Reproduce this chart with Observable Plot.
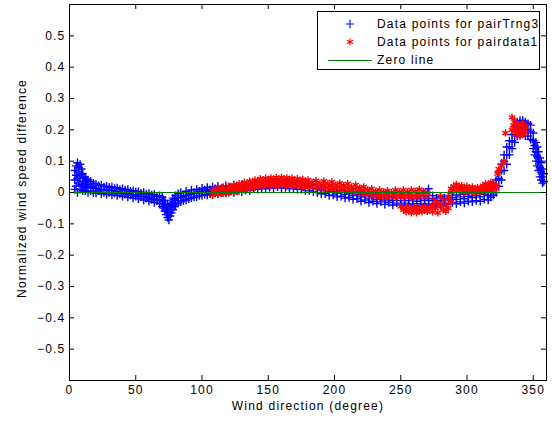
<!DOCTYPE html>
<html>
<head>
<meta charset="utf-8">
<script src="https://cdn.jsdelivr.net/npm/d3@7"></script>
<script src="https://cdn.jsdelivr.net/npm/@observablehq/plot@0.6"></script>
<style>
  html, body { margin: 0; padding: 0; background: #fff; }
  #wrap { position: relative; width: 552px; height: 423px; overflow: hidden; }
  #legend { position: absolute; left: 317px; top: 11px; width: 221px; height: 57px; border: 1px solid #000; background: #fff; }
  #legend svg { display: block; }
</style>
</head>
<body>
<div id="wrap"></div>
<script>
// ---------- data ----------
const xTicks = [0, 50, 100, 150, 200, 250, 300, 350];
const yTicks = [-0.5, -0.4, -0.3, -0.2, -0.1, 0, 0.1, 0.2, 0.3, 0.4, 0.5];
const xLabel = "Wind direction (degree)";
const yLabel = "Normalized wind speed difference";
const seriesNames = ["Data points for pairTrng3", "Data points for pairdata1", "Zero line"];

// [wind direction, normalized difference] — blue "+" series
const pairTrng3 = [
  [4,0.01],[4,0.04],[4,0.07],[5,0.02],[5,0.055],[5,0.085],[6,0.0],[6,0.045],[6,0.095],[7,0.03],[7,0.065],[7,0.08],
  [8,0.01],[8,0.05],[8,0.09],[9,0.025],[9,0.06],[9,0.075],[10,0.005],[10,0.035],[10,0.06],[11,0.02],[11,0.05],
  [12,0.005],[12,0.03],[12,0.045],[13,0.015],[13,0.04],[14,0.0],[14,0.025],[14,0.04],[16,0.005],[16,0.02],[16,0.035],
  [18,0.0],[18,0.015],[18,0.03],[20,-0.002],[20,0.012],[20,0.027],[22,0.005],[22,0.022],[24,-0.004],[24,0.01],[24,0.024],
  [26,0.0],[26,0.018],[28,-0.006],[28,0.008],[28,0.02],[30,0.0],[30,0.016],[32,-0.008],[32,0.006],[32,0.018],
  [34,-0.002],[34,0.013],[36,-0.01],[36,0.004],[36,0.015],[38,-0.004],[38,0.01],[40,-0.012],[40,0.0],[40,0.012],
  [42,-0.006],[42,0.008],[44,-0.015],[44,-0.003],[44,0.01],[46,-0.008],[46,0.004],[48,-0.018],[48,-0.006],[48,0.006],
  [50,-0.012],[50,0.002],[52,-0.02],[52,-0.008],[52,0.003],[54,-0.014],[54,-0.002],[56,-0.024],[56,-0.012],[56,0.0],
  [58,-0.018],[58,-0.005],[60,-0.028],[60,-0.015],[60,-0.003],[62,-0.022],[62,-0.008],[64,-0.032],[64,-0.018],[64,-0.006],
  [66,-0.026],[66,-0.012],[68,-0.036],[68,-0.022],[68,-0.01],[70,-0.045],[70,-0.03],[70,-0.015],[71,-0.05],[71,-0.025],
  [72,-0.06],[72,-0.04],[72,-0.025],[73,-0.07],[73,-0.05],[74,-0.08],[74,-0.06],[74,-0.04],[75,-0.088],[75,-0.065],[75,-0.045],
  [76,-0.075],[76,-0.055],[76,-0.035],[77,-0.065],[77,-0.04],[78,-0.055],[78,-0.035],[78,-0.018],[79,-0.045],[79,-0.022],
  [80,-0.04],[80,-0.025],[80,-0.01],[82,-0.034],[82,-0.018],[82,-0.004],[84,-0.03],[84,-0.015],[84,0.0],[86,-0.026],[86,-0.012],
  [88,-0.024],[88,-0.01],[88,0.004],[90,-0.02],[90,-0.006],[92,-0.018],[92,-0.004],[92,0.008],[94,-0.015],[94,0.0],
  [96,-0.014],[96,-0.002],[96,0.01],[98,-0.01],[98,0.004],[100,-0.01],[100,0.002],[100,0.014],[102,-0.006],[102,0.008],
  [104,-0.008],[104,0.004],[104,0.016],[106,-0.004],[106,0.01],[108,-0.006],[108,0.006],[108,0.018],[110,-0.002],[110,0.012],
  [112,-0.004],[112,0.008],[112,0.02],[115,0.0],[115,0.014],[118,-0.002],[118,0.01],[118,0.022],[121,0.004],[121,0.016],
  [124,0.0],[124,0.012],[124,0.024],[127,0.006],[127,0.018],[130,0.002],[130,0.014],[130,0.026],[133,0.008],[133,0.02],
  [136,0.006],[136,0.018],[136,0.03],[139,0.012],[139,0.024],[142,0.01],[142,0.022],[142,0.032],[145,0.014],[145,0.026],
  [148,0.012],[148,0.024],[148,0.034],[151,0.016],[151,0.028],[154,0.014],[154,0.026],[154,0.036],[157,0.018],[157,0.03],
  [160,0.014],[160,0.026],[160,0.036],[163,0.016],[163,0.028],[166,0.012],[166,0.024],[166,0.034],[169,0.014],[169,0.026],
  [172,0.01],[172,0.022],[172,0.032],[175,0.01],[175,0.022],[178,0.006],[178,0.018],[178,0.028],[181,0.006],[181,0.018],
  [184,0.002],[184,0.014],[184,0.024],[187,0.0],[187,0.012],[190,-0.004],[190,0.008],[190,0.018],[193,-0.004],[193,0.006],
  [196,-0.01],[196,0.002],[196,0.014],[199,-0.008],[199,0.004],[202,-0.014],[202,-0.002],[202,0.01],[205,-0.012],[205,0.0],
  [208,-0.018],[208,-0.006],[208,0.006],[211,-0.016],[211,-0.004],[214,-0.022],[214,-0.01],[214,0.002],[217,-0.02],[217,-0.008],
  [220,-0.028],[220,-0.014],[220,-0.002],[223,-0.024],[223,-0.01],[226,-0.032],[226,-0.018],[226,-0.005],[229,-0.028],[229,-0.012],
  [232,-0.035],[232,-0.022],[232,-0.008],[235,-0.03],[235,-0.015],[238,-0.038],[238,-0.024],[238,-0.01],[241,-0.032],[241,-0.016],
  [244,-0.04],[244,-0.026],[244,-0.012],[247,-0.034],[247,-0.018],[250,-0.04],[250,-0.026],[250,-0.012],[253,-0.034],[253,-0.018],
  [256,-0.04],[256,-0.026],[256,-0.012],[259,-0.036],[259,-0.02],[262,-0.042],[262,-0.028],[262,-0.014],[265,-0.036],[265,-0.02],
  [268,-0.04],[268,-0.026],[268,-0.012],[271,-0.036],[271,-0.02],[271,0.012],[274,-0.04],[274,-0.026],[274,-0.01],[277,-0.034],[277,-0.018],
  [280,-0.04],[280,-0.026],[280,-0.012],[283,-0.034],[283,-0.018],[286,-0.038],[286,-0.024],[286,-0.01],[289,-0.032],[289,-0.016],
  [292,-0.036],[292,-0.022],[292,-0.008],[295,-0.03],[295,-0.014],[298,-0.034],[298,-0.02],[298,-0.006],[301,-0.028],[301,-0.012],
  [304,-0.03],[304,-0.016],[304,-0.002],[307,-0.026],[307,-0.01],[310,-0.028],[310,-0.014],[310,0.0],[313,-0.022],[313,-0.006],
  [316,-0.024],[316,-0.01],[316,0.005],[318,-0.015],[318,0.0],[320,-0.008],[320,0.01],[320,0.025],[322,0.0],[322,0.02],[322,0.04],
  [324,0.02],[324,0.045],[324,0.065],[326,0.04],[326,0.07],[326,0.09],[328,0.07],[328,0.1],[328,0.12],[330,0.09],[330,0.12],[330,0.145],
  [332,0.12],[332,0.145],[332,0.165],[334,0.14],[334,0.165],[334,0.185],[336,0.16],[336,0.185],[336,0.21],[338,0.18],[338,0.2],[338,0.225],
  [340,0.185],[340,0.21],[340,0.23],[342,0.19],[342,0.21],[342,0.23],[344,0.18],[344,0.2],[344,0.225],[346,0.18],[346,0.2],[346,0.22],
  [348,0.17],[348,0.195],[348,0.215],[350,0.14],[350,0.165],[350,0.19],[351,0.12],[351,0.15],[352,0.1],[352,0.13],[352,0.16],
  [353,0.085],[353,0.115],[353,0.145],[354,0.07],[354,0.1],[354,0.13],[355,0.05],[355,0.08],[355,0.11],[356,0.04],[356,0.065],[356,0.095],
  [357,0.03],[357,0.05],[357,0.075],[358,0.035],[358,0.06]
];

// [wind direction, normalized difference] — red "*" series
const pairdata1 = [
  [108,-0.008],[108,0.004],[110,-0.004],[110,0.008],[112,-0.006],[112,0.006],[112,0.014],[114,-0.002],[114,0.01],
  [116,-0.004],[116,0.008],[116,0.018],[118,0.0],[118,0.012],[120,-0.002],[120,0.01],[120,0.02],[122,0.004],[122,0.016],
  [124,0.0],[124,0.012],[124,0.024],[126,0.006],[126,0.018],[128,0.004],[128,0.016],[128,0.028],[130,0.01],[130,0.022],
  [132,0.008],[132,0.02],[132,0.032],[134,0.014],[134,0.026],[136,0.012],[136,0.024],[136,0.036],[138,0.018],[138,0.03],
  [140,0.016],[140,0.028],[140,0.04],[142,0.022],[142,0.034],[144,0.02],[144,0.032],[144,0.044],[146,0.024],[146,0.036],
  [148,0.022],[148,0.034],[148,0.046],[150,0.026],[150,0.038],[152,0.022],[152,0.035],[152,0.047],[154,0.026],[154,0.04],
  [156,0.022],[156,0.035],[156,0.048],[158,0.026],[158,0.04],[160,0.024],[160,0.036],[160,0.048],[162,0.028],[162,0.042],
  [164,0.022],[164,0.035],[164,0.047],[166,0.026],[166,0.04],[168,0.022],[168,0.034],[168,0.046],[170,0.026],[170,0.038],
  [172,0.02],[172,0.032],[172,0.044],[174,0.024],[174,0.036],[176,0.018],[176,0.03],[176,0.042],[178,0.022],[178,0.034],
  [180,0.016],[180,0.028],[180,0.04],[183,0.02],[183,0.032],[186,0.014],[186,0.026],[186,0.038],[189,0.018],[189,0.03],
  [192,0.012],[192,0.024],[192,0.036],[195,0.016],[195,0.028],[198,0.01],[198,0.022],[198,0.034],[201,0.012],[201,0.024],
  [204,0.006],[204,0.018],[204,0.03],[207,0.01],[207,0.022],[210,0.004],[210,0.016],[210,0.028],[213,0.006],[213,0.018],
  [216,0.0],[216,0.012],[216,0.024],[219,0.002],[219,0.014],[222,-0.006],[222,0.006],[222,0.018],[225,-0.004],[225,0.008],
  [228,-0.012],[228,0.0],[228,0.012],[231,-0.008],[231,0.004],[234,-0.016],[234,-0.004],[234,0.008],[237,-0.01],[237,0.002],
  [240,-0.018],[240,-0.006],[240,0.006],[243,-0.012],[243,0.0],[246,-0.016],[246,-0.004],[246,0.008],[249,-0.01],[249,0.002],
  [252,-0.016],[252,-0.004],[252,0.008],[255,-0.01],[255,0.002],[258,-0.016],[258,-0.004],[258,0.008],[261,-0.01],[261,0.004],
  [264,-0.014],[264,-0.002],[264,0.01],[267,-0.008],[267,0.004],[270,-0.012],[270,0.0],
  [250,-0.045],[252,-0.055],[254,-0.048],[254,-0.062],[256,-0.056],[258,-0.045],[258,-0.065],[260,-0.055],[262,-0.048],
  [262,-0.065],[264,-0.056],[266,-0.045],[266,-0.062],[268,-0.054],[270,-0.045],[270,-0.06],[272,-0.05],[274,-0.04],
  [274,-0.062],[276,-0.025],[276,-0.05],[278,-0.035],[278,-0.065],[280,-0.045],[280,-0.012],[282,-0.055],[282,-0.025],
  [284,-0.04],[284,-0.06],[286,-0.015],[286,-0.05],[288,-0.03],[288,0.0],
  [288,0.012],[290,0.008],[290,0.02],[292,0.014],[292,0.026],[294,0.004],[294,0.018],[296,0.01],[296,0.022],[298,0.0],
  [298,0.014],[300,0.008],[300,0.02],[302,0.0],[302,0.012],[304,0.006],[304,0.018],[306,-0.002],[306,0.01],[308,0.004],
  [308,0.016],[310,0.0],[310,0.012],[312,0.01],[312,0.022],[314,0.004],[314,0.016],[314,0.028],[316,0.012],[316,0.024],
  [318,0.008],[318,0.02],[318,0.032],[320,0.016],[320,0.028],[322,0.012],[322,0.024],
  [323,0.06],[324,0.065],[324,0.075],[326,0.085],[328,0.1],[329,0.19],
  [334,0.24],[334,0.2],[335,0.215],[336,0.195],[336,0.23],[337,0.21],[338,0.185],[338,0.22],[339,0.2],[340,0.18],
  [340,0.215],[341,0.2],[342,0.185],[342,0.22],[343,0.205],[344,0.19],[345,0.21]
];

const zeroLine = [0];

// ---------- chart ----------
const W = 552, H = 423, mL = 69, mR = 6, mT = 4, mB = 43;
const innerW = W - mL - mR, innerH = H - mT - mB, tickLen = 5;
const font = "'Liberation Sans', Arial, Helvetica, sans-serif";
const plusR = 2.8, starR = 3.4, markW = 1.4;

const chart = Plot.plot({
  width: W, height: H,
  marginLeft: mL, marginRight: mR, marginTop: mT, marginBottom: mB,
  style: { fontFamily: font, fontSize: "12px", letterSpacing: "1.2px", color: "#000", background: "#fff", overflow: "visible" },
  x: { domain: [0, 360] },
  y: { domain: [-0.6, 0.6] },
  marks: [
    Plot.dot(pairTrng3, { x: d => d[0], y: d => d[1], symbol: "plus", r: plusR, stroke: "#0000ff", strokeWidth: markW }),
    Plot.dot(pairdata1, { x: d => d[0], y: d => d[1], symbol: "asterisk", r: starR, stroke: "#ff0000", strokeWidth: markW }),
    Plot.ruleY(zeroLine, { stroke: "#008000", strokeWidth: 1 }),
    // inward ticks on all four sides
    Plot.tickX(xTicks, { x: d => d, insetTop: innerH - tickLen, stroke: "#000" }),
    Plot.tickX(xTicks, { x: d => d, insetBottom: innerH - tickLen, stroke: "#000" }),
    Plot.tickY(yTicks, { y: d => d, insetRight: innerW - tickLen, stroke: "#000" }),
    Plot.tickY(yTicks, { y: d => d, insetLeft: innerW - tickLen, stroke: "#000" }),
    Plot.axisX(xTicks, { tickSize: 0, tickPadding: 5, label: null, fill: "#000" }),
    Plot.axisY(yTicks, { tickSize: 0, tickPadding: 4, label: null, fill: "#000",
      tickFormat: d => d === 0 ? "0" : d3.format(".1f")(d) }),
    Plot.text([xLabel], { frameAnchor: "bottom", dy: 29, text: d => d, fill: "#000", textAnchor: "middle" }),
    Plot.text([yLabel], { frameAnchor: "left", dx: -47, dy: -4, rotate: -90, text: d => d, fill: "#000", textAnchor: "middle" }),
    Plot.frame({ stroke: "#000", strokeWidth: 1 })
  ]
});

const wrap = document.getElementById("wrap");
wrap.appendChild(chart);

// ---------- legend ----------
const legend = document.createElement("div");
legend.id = "legend";
wrap.appendChild(legend);
const lsvg = d3.select(legend).append("svg").attr("width", 221).attr("height", 57)
  .style("font-family", font).style("font-size", "12px").style("letter-spacing", "1.2px");
const rows = [12, 30, 48];
const plusPath = d3.symbol(d3.symbolPlus, Math.PI * plusR * plusR)();
const starPath = d3.symbol(d3.symbolAsterisk, Math.PI * starR * starR)();
lsvg.append("path").attr("d", plusPath).attr("transform", `translate(32,${rows[0]})`)
  .attr("fill", "none").attr("stroke", "#0000ff").attr("stroke-width", 1.1);
lsvg.append("path").attr("d", starPath).attr("transform", `translate(32,${rows[1]})`)
  .attr("fill", "none").attr("stroke", "#ff0000").attr("stroke-width", 1.1);
lsvg.append("line").attr("x1", 10).attr("x2", 54).attr("y1", rows[2] + 0.5).attr("y2", rows[2] + 0.5)
  .attr("stroke", "#008000").attr("stroke-width", 1);
seriesNames.forEach((s, i) => {
  lsvg.append("text").attr("x", 59).attr("y", rows[i]).attr("dy", "0.35em").text(s);
});
</script>
</body>
</html>
